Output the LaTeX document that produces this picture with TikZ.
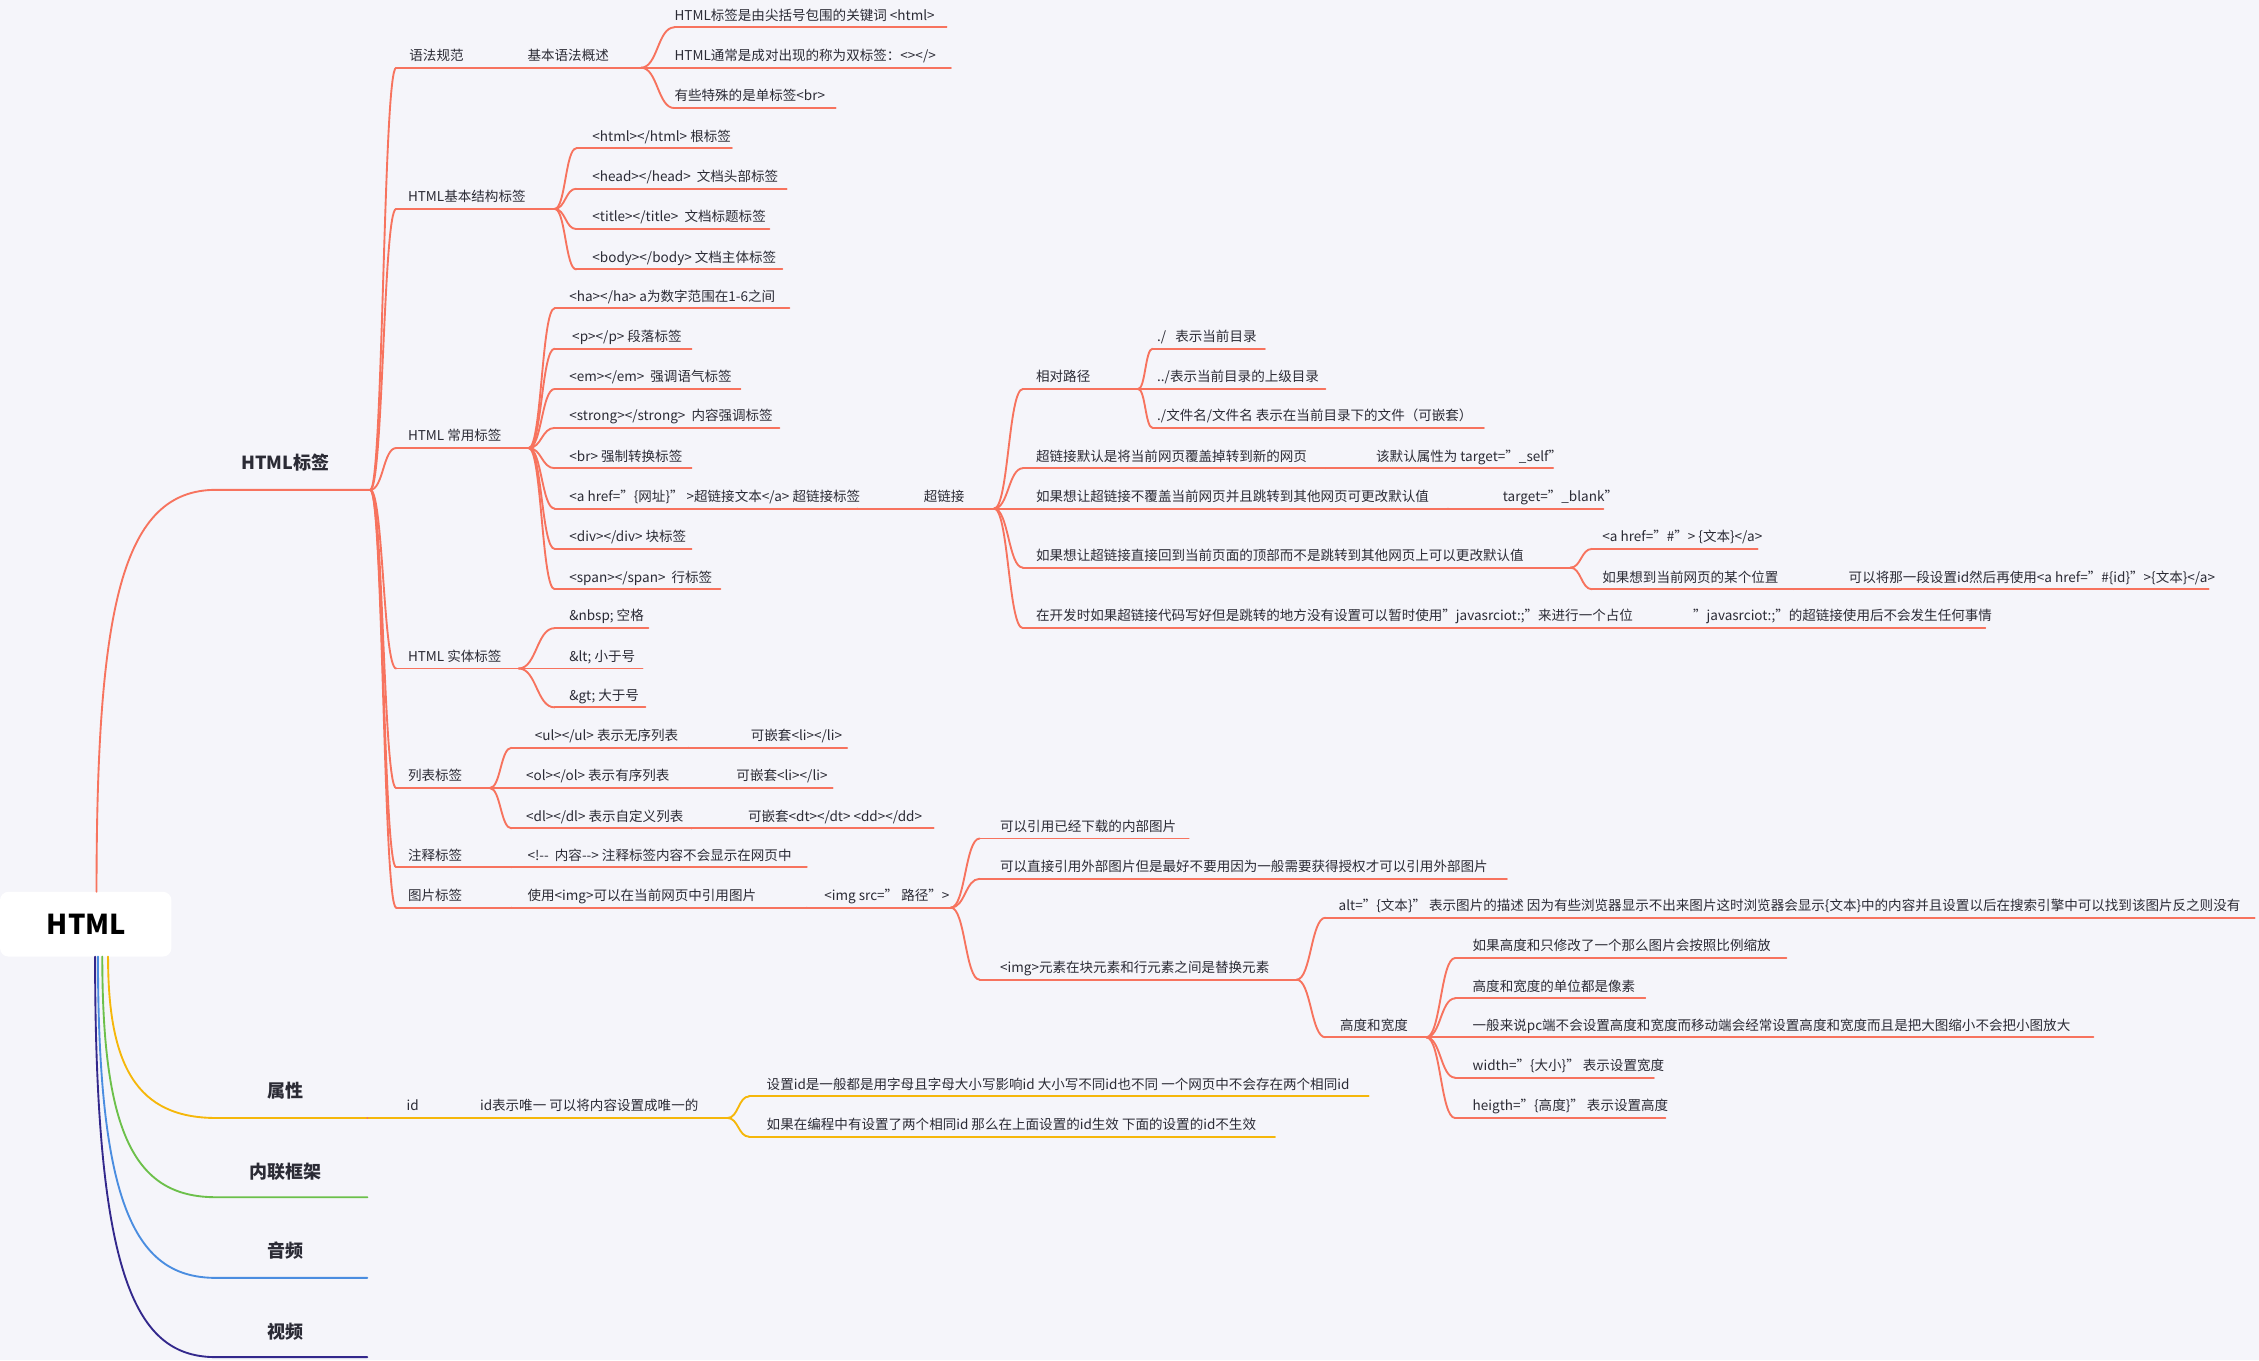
\documentclass[tikz,border=0pt]{standalone}
\usepackage{fontspec}
\setmainfont{Noto Sans CJK SC}
\usetikzlibrary{calc}
\definecolor{bg}{HTML}{F5F5FA}
\definecolor{org}{HTML}{F7735E}
\definecolor{yel}{HTML}{F5B70A}
\definecolor{grn}{HTML}{6CC04A}
\definecolor{blu}{HTML}{4A8DE0}
\definecolor{nav}{HTML}{33288C}
\definecolor{txt}{HTML}{2B2B35}
\colorlet{brc}{org}
\tikzset{x=1pt,y=-1pt,
 ul/.style={draw=brc,line width=1.3pt,line cap=round},
 lbl/.style={text=txt,font=\fontsize{9.4}{11}\selectfont,inner sep=0pt},
 mainlbl/.style={text=txt,font=\fontsize{12.5}{14}\selectfont\bfseries,inner sep=0pt}}
\newcommand\N[6]{%
 \coordinate (#1l) at (#2,#4); \coordinate (#1r) at (#3,#4);
 \node[lbl,anchor=base west] (#1) at (#5,#4-5) {#6};
 \draw[ul] (#1l) -- (#1r);}
\newcommand\C[2]{%
 \draw[ul] let \p1=(#1r), \p2=(#2l) in (\p1) .. controls (0.5*\x1+0.5*\x2,\y1) and (0.5*\x1+0.5*\x2,\y2) .. (\p2);}
\begin{document}
\begin{tikzpicture}
\fill[bg] (0,0) rectangle (1568,944);
\useasboundingbox (0,0) rectangle (1568,944);
% root
\fill[white,rounded corners=6pt] (0,619) rectangle (119,664);
\node[text=black,font=\fontsize{19}{22}\selectfont\bfseries] (root) at (60,641.5) {HTML};
\coordinate (ra) at (67,619);
\coordinate (rb) at (75,664);
\coordinate (rc) at (71,664);
\coordinate (rd) at (68,664);
\coordinate (re) at (66,664);
% main branches
\coordinate (Ml) at (150,340); \coordinate (Mr) at (257,340);
\node[mainlbl] (M) at (198,321) {HTML标签};
\draw[ul] (ra) .. controls (67,420) and (85,340) .. (Ml) -- (Mr);
\begin{scope}
\colorlet{brc}{yel}
\coordinate (Al) at (150,776); \coordinate (Ar) at (255,776);
\node[mainlbl] (A) at (198,757) {属性};
\draw[ul] (rb) .. controls (75,740) and (95,776) .. (Al) -- (Ar);
\N{id}{255}{320}{776}{282}{id}
\N{idb}{320}{505}{776}{333}{id表示唯一 可以将内容设置成唯一的}
\N{idc1}{520}{950}{761}{532}{设置id是一般都是用字母且字母大小写影响id 大小写不同id也不同 一个网页中不会存在两个相同id}
\N{idc2}{520}{885}{789}{532}{如果在编程中有设置了两个相同id 那么在上面设置的id生效 下面的设置的id不生效}
\C{idb}{idc1}\C{idb}{idc2}
\end{scope}
\begin{scope}\colorlet{brc}{grn}
\coordinate (Il) at (150,831); \coordinate (Ir) at (255,831);
\node[mainlbl] (I) at (198,813) {内联框架};
\draw[ul] (rc) .. controls (71,790) and (95,831) .. (Il) -- (Ir);
\end{scope}
\begin{scope}\colorlet{brc}{blu}
\coordinate (Ul) at (150,887); \coordinate (Ur) at (255,887);
\node[mainlbl] (U) at (198,868) {音频};
\draw[ul] (rd) .. controls (68,840) and (95,887) .. (Ul) -- (Ur);
\end{scope}
\begin{scope}\colorlet{brc}{nav}
\coordinate (Vl) at (150,942); \coordinate (Vr) at (255,942);
\node[mainlbl] (V) at (198,924) {视频};
\draw[ul] (re) .. controls (66,890) and (95,942) .. (Vl) -- (Vr);
\end{scope}
% HTML标签 subtree
\N{sa}{275}{355}{47}{284}{语法规范}
\N{sab}{355}{445}{47}{366}{基本语法概述}
\N{sa1}{468}{657}{19}{468}{HTML标签是由尖括号包围的关键词 <html>}
\N{sa2}{468}{660}{47}{468}{HTML通常是成对出现的称为双标签：<></>}
\N{sa3}{468}{580}{75}{468}{有些特殊的是单标签<br>}
\C{sab}{sa1}\C{sab}{sa2}\C{sab}{sa3}
\N{sb}{275}{385}{145}{283}{HTML基本结构标签}
\N{sb1}{400}{508}{103}{411}{<html></html> 根标签}
\N{sb2}{400}{546}{131}{411}{<head></head>\ \ 文档头部标签}
\N{sb3}{400}{534}{159}{411}{<title></title>\ \ 文档标题标签}
\N{sb4}{400}{543}{187}{411}{<body></body> 文档主体标签}
\C{sb}{sb1}\C{sb}{sb2}\C{sb}{sb3}\C{sb}{sb4}
\N{sc}{275}{367}{311}{283}{HTML 常用标签}
\N{sc1}{385}{548}{214}{395}{<ha></ha> a为数字范围在1-6之间}
\N{sc2}{385}{480}{242}{397}{<p></p> 段落标签}
\N{sc3}{385}{514}{270}{395}{<em></em>\ \ 强调语气标签}
\N{sc4}{385}{541}{297}{395}{<strong></strong>\ \ 内容强调标签}
\N{sc5}{385}{480}{325}{395}{<br> 强制转换标签}
\N{sc6}{385}{595}{353}{395}{<a href="\{网址\}" >超链接文本</a> 超链接标签}
\N{sc7}{385}{480}{381}{395}{<div></div> 块标签}
\N{sc8}{385}{500}{409}{395}{<span></span>\ \ 行标签}
\C{sc}{sc1}\C{sc}{sc2}\C{sc}{sc3}\C{sc}{sc4}\C{sc}{sc5}\C{sc}{sc6}\C{sc}{sc7}\C{sc}{sc8}
\N{hl}{595}{690}{353}{641}{超链接}
\C{sc6}{hl}
\N{ha}{710}{790}{270}{719}{相对路径}
\N{ha1}{800}{878}{242}{803}{./\ \ \ 表示当前目录}
\N{ha2}{800}{920}{270}{803}{../表示当前目录的上级目录}
\N{ha3}{800}{1030}{297}{803}{./文件名/文件名 表示在当前目录下的文件（可嵌套）}
\C{ha}{ha1}\C{ha}{ha2}\C{ha}{ha3}
\N{hb}{710}{920}{325}{719}{超链接默认是将当前网页覆盖掉转到新的网页}
\N{hbb}{920}{1078}{325}{955}{该默认属性为 target="\_self"}
\C{hb}{hbb}
\N{hc}{710}{1005}{353}{719}{如果想让超链接不覆盖当前网页并且跳转到其他网页可更改默认值}
\N{hcb}{1005}{1113}{353}{1043}{target="\_blank"}
\C{hc}{hcb}
\N{hd}{710}{1090}{394}{719}{如果想让超链接直接回到当前页面的顶部而不是跳转到其他网页上可以更改默认值}
\N{hd1}{1105}{1220}{381}{1112}{<a href="\#"> \{文本\}</a>}
\N{hd2}{1105}{1245}{409}{1112}{如果想到当前网页的某个位置}
\N{hd3}{1245}{1533}{409}{1283}{可以将那一段设置id然后再使用<a href="\#\{id\}">\{文本\}</a>}
\C{hd}{hd1}\C{hd}{hd2}\C{hd2}{hd3}
\N{he}{710}{1140}{436}{719}{在开发时如果超链接代码写好但是跳转的地方没有设置可以暂时使用"javasrciot:;"来进行一个占位}
\N{heb}{1140}{1378}{436}{1175}{"javasrciot:;"的超链接使用后不会发生任何事情}
\C{he}{heb}
\C{hl}{ha}\C{hl}{hb}\C{hl}{hc}\C{hl}{hd}\C{hl}{he}
\N{sd}{275}{360}{464}{283}{HTML 实体标签}
\N{sd1}{385}{450}{436}{395}{\&nbsp; 空格}
\N{sd2}{385}{446}{464}{395}{\&lt; 小于号}
\N{sd3}{385}{448}{491}{395}{\&gt; 大于号}
\C{sd}{sd1}\C{sd}{sd2}\C{sd}{sd3}
\N{se}{275}{340}{547}{283}{列表标签}
\N{se1}{355}{478}{519}{371}{<ul></ul> 表示无序列表}
\N{se2}{355}{472}{547}{365}{<ol></ol> 表示有序列表}
\N{se3}{355}{480}{575}{365}{<dl></dl> 表示自定义列表}
\N{se1b}{478}{588}{519}{521}{可嵌套<li></li>}
\N{se2b}{472}{578}{547}{511}{可嵌套<li></li>}
\N{se3b}{480}{648}{575}{519}{可嵌套<dt></dt> <dd></dd>}
\C{se}{se1}\C{se}{se2}\C{se}{se3}\C{se1}{se1b}\C{se2}{se2b}\C{se3}{se3b}
\N{sf}{275}{355}{602}{283}{注释标签}
\N{sfb}{355}{560}{602}{366}{<!-{}-\ \ 内容-{}-> 注释标签内容不会显示在网页中}
\C{sf}{sfb}
\N{sg}{275}{355}{630}{283}{图片标签}
\N{sgb}{355}{560}{630}{366}{使用<img>可以在当前网页中引用图片}
\N{sgc}{560}{660}{630}{572}{<img src=" 路径">}
\C{sg}{sgb}\C{sgb}{sgc}
\N{sg1}{680}{825}{582}{694}{可以引用已经下载的内部图片}
\N{sg2}{680}{1046}{610}{694}{可以直接引用外部图片但是最好不要用因为一般需要获得授权才可以引用外部图片}
\N{sg3}{680}{900}{680}{694}{<img>元素在块元素和行元素之间是替换元素}
\C{sgc}{sg1}\C{sgc}{sg2}\C{sgc}{sg3}
\N{sh1}{920}{1565}{637}{929}{alt="\{文本\}" 表示图片的描述 因为有些浏览器显示不出来图片这时浏览器会显示\{文本\}中的内容并且设置以后在搜索引擎中可以找到该图片反之则没有}
\N{sh2}{920}{990}{720}{930}{高度和宽度}
\C{sg3}{sh1}\C{sg3}{sh2}
\N{si1}{1010}{1240}{665}{1022}{如果高度和只修改了一个那么图片会按照比例缩放}
\N{si2}{1010}{1142}{693}{1022}{高度和宽度的单位都是像素}
\N{si3}{1010}{1453}{720}{1022}{一般来说pc端不会设置高度和宽度而移动端会经常设置高度和宽度而且是把大图缩小不会把小图放大}
\N{si4}{1010}{1148}{748}{1022}{width="\{大小\}" 表示设置宽度}
\N{si5}{1010}{1156}{776}{1022}{heigth="\{高度\}" 表示设置高度}
\C{sh2}{si1}\C{sh2}{si2}\C{sh2}{si3}\C{sh2}{si4}\C{sh2}{si5}
\C{M}{sa}\C{M}{sb}\C{M}{sc}\C{M}{sd}\C{M}{se}\C{M}{sf}\C{M}{sg}
\C{A}{id}
\end{tikzpicture}
\end{document}
